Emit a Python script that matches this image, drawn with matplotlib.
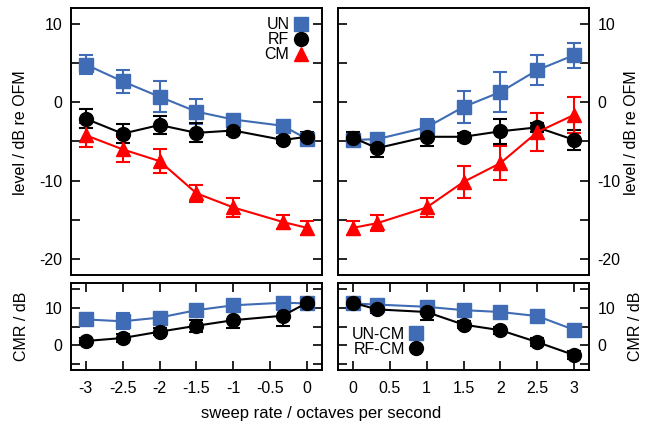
import numpy as np
import matplotlib
matplotlib.use("Agg")
import matplotlib.pyplot as plt
from matplotlib.lines import Line2D

plt.rcParams['font.family'] = ['Liberation Sans', 'DejaVu Sans']
plt.rcParams['axes.unicode_minus'] = False

# sweep rates (octaves per second)
x_neg = [-3, -2.5, -2, -1.5, -1, -0.33, 0]
x_pos = [0, 0.33, 1, 1.5, 2, 2.5, 3]

# level re OFM (dB), downward sweeps
un_neg = [4.8, 2.65, 0.7, -1.2, -2.2, -3.0, -4.7]
un_neg_err = [1.2, 1.5, 2.0, 1.6, 0.5, 0.5, 0.5]
rf_neg = [-2.1, -4.0, -2.9, -3.9, -3.6, -4.8, -4.4]
rf_neg_err = [1.2, 1.2, 1.2, 1.2, 0.6, 0.4, 0.6]
cm_neg = [-4.2, -6.0, -7.5, -11.6, -13.4, -15.25, -16.0]
cm_neg_err = [1.5, 1.55, 1.5, 1.1, 1.25, 0.85, 0.9]

# level re OFM (dB), upward sweeps
un_pos = [-4.8, -4.7, -3.2, -0.6, 1.3, 4.1, 6.0]
un_pos_err = [0.5, 0.5, 1.1, 2.0, 2.5, 1.9, 1.6]
rf_pos = [-4.5, -5.85, -4.4, -4.4, -3.7, -3.2, -4.8]
rf_pos_err = [0.7, 1.1, 1.2, 0.5, 1.6, 0.6, 1.3]
cm_pos = [-16.0, -15.4, -13.4, -10.15, -7.75, -3.8, -1.6]
cm_pos_err = [0.9, 1.0, 1.2, 2.05, 2.15, 2.4, 2.3]

# CMR (dB)
cmr_un_neg = [6.9, 6.4, 7.4, 9.4, 10.7, 11.4, 11.2]
cmr_un_neg_err = [0.8, 2.2, 1.0, 1.0, 1.0, 1.2, 1.0]
cmr_rf_neg = [1.1, 1.9, 3.6, 5.2, 6.7, 7.9, 11.4]
cmr_rf_neg_err = [0.8, 1.0, 1.0, 1.6, 2.2, 2.8, 1.0]
cmr_un_pos = [11.2, 10.9, 10.3, 9.4, 8.9, 7.8, 4.1]
cmr_un_pos_err = [1.0, 1.0, 1.0, 1.0, 1.0, 1.0, 1.0]
cmr_rf_pos = [11.4, 9.6, 8.9, 5.5, 4.0, 0.8, -2.7]
cmr_rf_pos_err = [1.0, 1.0, 2.2, 1.0, 1.0, 1.0, 1.0]

xticks_neg = [-3, -2.5, -2, -1.5, -1, -0.5, 0]
xticklabels_neg = ['-3', '-2.5', '-2', '-1.5', '-1', '-0.5', '0']
xticks_pos = [0, 0.5, 1, 1.5, 2, 2.5, 3]
xticklabels_pos = ['0', '0.5', '1', '1.5', '2', '2.5', '3']

blue = '#3f6cb4'
red = '#ff0000'
black = '#000000'
fs = 11.5

W, H = 659, 423
fig = plt.figure(figsize=(W / 100, H / 100), dpi=100)


def box(x0, y0, x1, y1):
    return [x0 / W, 1 - y1 / H, (x1 - x0) / W, (y1 - y0) / H]


ax_tl = fig.add_axes(box(71, 8, 322, 275))
ax_tr = fig.add_axes(box(338, 8, 589, 275))
ax_bl = fig.add_axes(box(71, 283, 322, 370))
ax_br = fig.add_axes(box(338, 283, 589, 370))


def series(ax, x, y, e, color, marker, ms):
    ax.errorbar(x, y, yerr=e, color=color, marker=marker, ms=ms, lw=1.5,
                elinewidth=1.5, capsize=5, capthick=1.5, mec=color, mfc=color)


for ax, x, data in [
        (ax_tl, x_neg, [(un_neg, un_neg_err), (rf_neg, rf_neg_err), (cm_neg, cm_neg_err)]),
        (ax_tr, x_pos, [(un_pos, un_pos_err), (rf_pos, rf_pos_err), (cm_pos, cm_pos_err)])]:
    series(ax, x, data[0][0], data[0][1], blue, 's', 10.5)
    series(ax, x, data[1][0], data[1][1], black, 'o', 10)
    series(ax, x, data[2][0], data[2][1], red, '^', 10)
    ax.set_ylim(-22, 12)
    ax.set_yticks([-20, -10, 0, 10])
    ax.set_yticks([-15, -5, 5], minor=True)
    ax.tick_params(axis='x', which='both', bottom=False, top=False,
                   labelbottom=False)

for ax, x, data in [
        (ax_bl, x_neg, [(cmr_un_neg, cmr_un_neg_err), (cmr_rf_neg, cmr_rf_neg_err)]),
        (ax_br, x_pos, [(cmr_un_pos, cmr_un_pos_err), (cmr_rf_pos, cmr_rf_pos_err)])]:
    series(ax, x, data[0][0], data[0][1], blue, 's', 10.5)
    series(ax, x, data[1][0], data[1][1], black, 'o', 10)
    ax.set_ylim(-6.7, 16.7)
    ax.set_yticks([0, 10])
    ax.set_yticks([-5, 5, 15], minor=True)
    ax.tick_params(axis='x', which='both', bottom=True, top=True, pad=8)

ax_tl.set_xlim(-3.2, 0.2)
ax_bl.set_xlim(-3.2, 0.2)
ax_tr.set_xlim(-0.2, 3.2)
ax_br.set_xlim(-0.2, 3.2)
ax_bl.set_xticks(xticks_neg)
ax_bl.set_xticklabels(xticklabels_neg)
ax_br.set_xticks(xticks_pos)
ax_br.set_xticklabels(xticklabels_pos)

for ax in [ax_tl, ax_tr, ax_bl, ax_br]:
    ax.tick_params(which='both', direction='in', length=6.5, width=1.2,
                   left=True, right=True, labelsize=fs)
    ax.tick_params(axis='y', pad=6)
    for s in ax.spines.values():
        s.set_linewidth(1.4)

for ax in [ax_tr, ax_br]:
    ax.tick_params(axis='y', labelleft=False, labelright=True)

# axis labels
fig.text(21 / W, 1 - 133 / H, 'level / dB re OFM', rotation=90,
         ha='center', va='center', fontsize=fs)
fig.text(631 / W, 1 - 133 / H, 'level / dB re OFM', rotation=90,
         ha='center', va='center', fontsize=fs)
fig.text(21 / W, 1 - 326 / H, 'CMR / dB', rotation=90,
         ha='center', va='center', fontsize=fs)
fig.text(636 / W, 1 - 326 / H, 'CMR / dB', rotation=90,
         ha='center', va='center', fontsize=fs)
fig.text(321 / W, 1 - 413 / H, 'sweep rate / octaves per second',
         ha='center', va='center', fontsize=12)

# legends
def proxy(color, marker, ms):
    return Line2D([], [], ls='none', marker=marker, ms=ms, color=color)


ax_tl.legend([proxy(blue, 's', 10.5), proxy(black, 'o', 10), proxy(red, '^', 10)],
             ['UN', 'RF', 'CM'], loc='upper right', bbox_to_anchor=(0.94, 0.965),
             markerfirst=False, frameon=False, fontsize=fs, borderpad=0,
             borderaxespad=0, labelspacing=0.0, handlelength=0.8,
             handletextpad=0.3)
ax_br.legend([proxy(blue, 's', 10.5), proxy(black, 'o', 10)],
             ['UN-CM', 'RF-CM'], loc='upper left', bbox_to_anchor=(0.054, 0.5),
             markerfirst=False, frameon=False, fontsize=fs, borderpad=0,
             borderaxespad=0, labelspacing=0.0, handlelength=0.8,
             handletextpad=0.3)

fig.savefig('out.png', dpi=100)
